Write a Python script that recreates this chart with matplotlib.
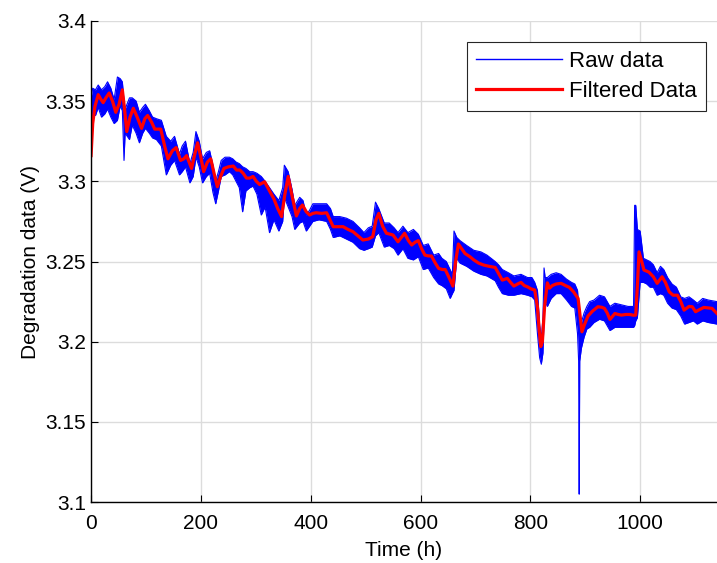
import matplotlib.pyplot as plt
from matplotlib.lines import Line2D

plt.rcParams['font.family'] = ['Liberation Sans', 'DejaVu Sans']

# raw data: upper / lower envelope of the noisy band (V), spikes included
raw_t = [0, 3, 8, 13, 19, 25, 30, 36, 42, 48, 53, 57, 60, 62, 70, 75, 82, 88, 94, 99,
         106, 112, 119, 128, 137, 145, 152, 161, 166, 172, 180, 186, 191, 197, 203, 210,
         216, 222, 227, 232, 237, 244, 252, 258, 264, 270, 276, 282, 289, 295, 302, 310,
         317, 325, 333, 342, 349, 352, 359, 366, 371, 380, 386, 392, 398, 404, 415, 429,
         436, 441, 453, 465, 477, 489, 497, 505, 512, 518, 524, 534, 543, 552, 559, 568,
         577, 587, 596, 605, 614, 624, 633, 639, 647, 654, 658, 661, 666, 672, 684, 697,
         710, 721, 736, 742, 749, 760, 770, 783, 795, 803, 808, 813, 817, 820, 823, 825,
         827, 831, 838, 847, 856, 866, 875, 881, 886, 888, 889, 890, 893, 898, 903, 908,
         916, 926, 935, 945, 954, 966, 978, 988, 990, 992, 995, 1000, 1006, 1012, 1018,
         1024, 1031, 1037, 1043, 1050, 1058, 1066, 1074, 1081, 1089, 1097, 1104, 1114,
         1124, 1140]
raw_hi = [3.352, 3.358, 3.357, 3.360, 3.357, 3.359, 3.362, 3.358, 3.351, 3.365, 3.364,
          3.362, 3.350, 3.345, 3.352, 3.352, 3.350, 3.343, 3.346, 3.348, 3.344, 3.340,
          3.339, 3.338, 3.328, 3.325, 3.328, 3.317, 3.322, 3.325, 3.311, 3.318, 3.331,
          3.325, 3.314, 3.318, 3.319, 3.310, 3.300, 3.306, 3.313, 3.315, 3.315, 3.314,
          3.312, 3.311, 3.309, 3.308, 3.306, 3.306, 3.305, 3.303, 3.300, 3.296, 3.292,
          3.288, 3.296, 3.310, 3.306, 3.295, 3.285, 3.290, 3.288, 3.279, 3.282, 3.286,
          3.286, 3.286, 3.283, 3.278, 3.278, 3.277, 3.275, 3.271, 3.268, 3.271, 3.272,
          3.287, 3.283, 3.274, 3.274, 3.271, 3.268, 3.272, 3.268, 3.270, 3.267, 3.260,
          3.261, 3.254, 3.255, 3.252, 3.250, 3.245, 3.242, 3.269, 3.265, 3.263, 3.260,
          3.257, 3.256, 3.254, 3.250, 3.248, 3.245, 3.243, 3.241, 3.242, 3.240, 3.240,
          3.237, 3.232, 3.210, 3.202, 3.215, 3.246, 3.240, 3.240, 3.242, 3.243, 3.242,
          3.239, 3.237, 3.236, 3.232, 3.222, 3.215, 3.218, 3.212, 3.218, 3.222, 3.225,
          3.226, 3.229, 3.228, 3.222, 3.224, 3.223, 3.222, 3.222, 3.285, 3.285, 3.270,
          3.269, 3.252, 3.251, 3.250, 3.248, 3.243, 3.247, 3.245, 3.240, 3.236, 3.234,
          3.228, 3.227, 3.228, 3.226, 3.224, 3.227, 3.226, 3.225]
raw_lo = [3.338, 3.342, 3.341, 3.346, 3.340, 3.342, 3.345, 3.340, 3.336, 3.338, 3.347,
          3.344, 3.313, 3.330, 3.326, 3.335, 3.330, 3.324, 3.330, 3.333, 3.330, 3.327,
          3.326, 3.322, 3.304, 3.310, 3.313, 3.304, 3.306, 3.309, 3.299, 3.303, 3.315,
          3.309, 3.299, 3.303, 3.305, 3.293, 3.286, 3.294, 3.303, 3.304, 3.306, 3.304,
          3.300, 3.296, 3.281, 3.294, 3.296, 3.297, 3.292, 3.279, 3.284, 3.268, 3.276,
          3.269, 3.275, 3.290, 3.284, 3.278, 3.270, 3.274, 3.275, 3.269, 3.272, 3.275,
          3.276, 3.275, 3.270, 3.265, 3.266, 3.264, 3.262, 3.258, 3.257, 3.258, 3.259,
          3.266, 3.268, 3.259, 3.260, 3.258, 3.254, 3.258, 3.252, 3.251, 3.253, 3.245,
          3.246, 3.240, 3.236, 3.235, 3.233, 3.227, 3.230, 3.232, 3.252, 3.249, 3.247,
          3.244, 3.242, 3.241, 3.238, 3.234, 3.230, 3.229, 3.229, 3.230, 3.229, 3.228,
          3.226, 3.205, 3.190, 3.186, 3.193, 3.215, 3.225, 3.222, 3.227, 3.230, 3.230,
          3.226, 3.222, 3.221, 3.205, 3.188, 3.105, 3.188, 3.196, 3.203, 3.208, 3.209,
          3.212, 3.214, 3.213, 3.207, 3.209, 3.209, 3.209, 3.209, 3.210, 3.213, 3.215,
          3.237, 3.237, 3.236, 3.234, 3.234, 3.229, 3.230, 3.229, 3.224, 3.221, 3.220,
          3.216, 3.211, 3.212, 3.213, 3.211, 3.213, 3.212, 3.211]

# filtered data
filt_t = [0, 3, 7, 13, 18, 22, 27, 33, 39, 45, 51, 57, 61, 65, 71, 77, 84, 92, 98, 103,
          110, 116, 127, 134, 140, 148, 155, 163, 169, 174, 183, 189, 194, 200, 205, 212,
          218, 224, 230, 236, 242, 250, 259, 265, 271, 277, 283, 289, 295, 301, 307, 316,
          325, 333, 340, 347, 353, 359, 366, 374, 380, 385, 392, 398, 404, 410, 420, 429,
          435, 441, 450, 459, 468, 477, 486, 495, 505, 513, 519, 524, 531, 538, 545, 550,
          559, 565, 571, 578, 584, 590, 596, 602, 608, 614, 620, 627, 633, 640, 645, 652,
          659, 664, 669, 675, 681, 690, 697, 706, 715, 725, 736, 743, 749, 758, 764, 770,
          777, 783, 789, 795, 801, 808, 813, 816, 819, 822, 826, 831, 835, 840, 847, 856,
          864, 871, 879, 887, 891, 894, 899, 905, 913, 923, 930, 935, 940, 945, 950, 954,
          960, 966, 974, 981, 988, 992, 995, 998, 1003, 1007, 1016, 1024, 1031, 1040,
          1046, 1053, 1060, 1068, 1074, 1080, 1089, 1095, 1101, 1108, 1116, 1125, 1131,
          1140]
filt_v = [3.316, 3.336, 3.3465, 3.354, 3.351, 3.349, 3.352, 3.355, 3.350, 3.343, 3.348,
          3.357, 3.345, 3.331, 3.340, 3.3455, 3.340, 3.333, 3.339, 3.341, 3.337, 3.3325,
          3.3325, 3.322, 3.314, 3.319, 3.321, 3.313, 3.314, 3.316, 3.308, 3.317, 3.324,
          3.315, 3.306, 3.312, 3.314, 3.305, 3.2966, 3.303, 3.308, 3.309, 3.3095, 3.307,
          3.307, 3.305, 3.302, 3.302, 3.303, 3.300, 3.298, 3.2997, 3.294, 3.289, 3.283,
          3.278, 3.292, 3.303, 3.291, 3.2784, 3.283, 3.2852, 3.281, 3.279, 3.280, 3.2804,
          3.280, 3.2804, 3.276, 3.2717, 3.2717, 3.2717, 3.270, 3.2686, 3.266, 3.2634,
          3.264, 3.2655, 3.276, 3.280, 3.272, 3.2676, 3.267, 3.2665, 3.2623, 3.265,
          3.2676, 3.263, 3.2603, 3.262, 3.263, 3.258, 3.254, 3.2535, 3.2534, 3.249,
          3.2457, 3.245, 3.245, 3.240, 3.2347, 3.250, 3.2609, 3.258, 3.255, 3.253, 3.251,
          3.249, 3.2478, 3.247, 3.2463, 3.242, 3.2384, 3.2395, 3.237, 3.2347, 3.236,
          3.237, 3.235, 3.2342, 3.233, 3.2322, 3.2218, 3.208, 3.197, 3.200, 3.222, 3.2367,
          3.2334, 3.235, 3.236, 3.2364, 3.235, 3.2339, 3.231, 3.227, 3.215, 3.2062, 3.211,
          3.216, 3.219, 3.2218, 3.2215, 3.2208, 3.218, 3.2139, 3.216, 3.2176, 3.217,
          3.2166, 3.217, 3.217, 3.2165, 3.2166, 3.235, 3.256, 3.250, 3.2447, 3.2434,
          3.2405, 3.2364, 3.2405, 3.237, 3.2311, 3.229, 3.229, 3.225, 3.2197, 3.222,
          3.2218, 3.2187, 3.220, 3.2214, 3.221, 3.2208, 3.2176]

fig = plt.figure(figsize=(7.17, 5.63), dpi=100)
ax = fig.add_axes([0.127, 0.108, 0.873, 0.855])

ax.fill_between(raw_t, raw_lo, raw_hi, color='b', linewidth=0)
ax.plot(raw_t, raw_hi, color='b', linewidth=0.8)
ax.plot(raw_t, raw_lo, color='b', linewidth=0.8)
ax.plot(filt_t, filt_v, color='r', linewidth=2.3)

ax.set_xlim(0, 1140)
ax.set_ylim(3.1, 3.4)
ax.set_xticks([0, 200, 400, 600, 800, 1000])
ax.set_yticks([3.1, 3.15, 3.2, 3.25, 3.3, 3.35, 3.4])
ax.set_yticklabels(['3.1', '3.15', '3.2', '3.25', '3.3', '3.35', '3.4'])
ax.grid(True, color='#dcdcdc', linewidth=1)
ax.set_axisbelow(True)
ax.spines['top'].set_visible(False)
ax.spines['right'].set_visible(False)
for s in ('left', 'bottom'):
    ax.spines[s].set_linewidth(1)
ax.tick_params(direction='in', length=5, labelsize=15, colors='black')
ax.tick_params(axis='x', pad=8.5)
ax.set_xlabel('Time (h)', fontsize=15, labelpad=6)
ax.set_ylabel('Degradation data (V)', fontsize=15)

handles = [Line2D([], [], color='b', linewidth=1), Line2D([], [], color='r', linewidth=2.3)]
leg = ax.legend(handles, ['Raw data', 'Filtered Data'], loc='upper right',
                bbox_to_anchor=(0.982, 0.956), borderaxespad=0, fontsize=16,
                fancybox=False, framealpha=1, edgecolor='#262626',
                handlelength=3.9, handletextpad=0.3, borderpad=0.4, labelspacing=0.4)
leg.get_frame().set_linewidth(0.8)

fig.savefig('out.png', dpi=100)
